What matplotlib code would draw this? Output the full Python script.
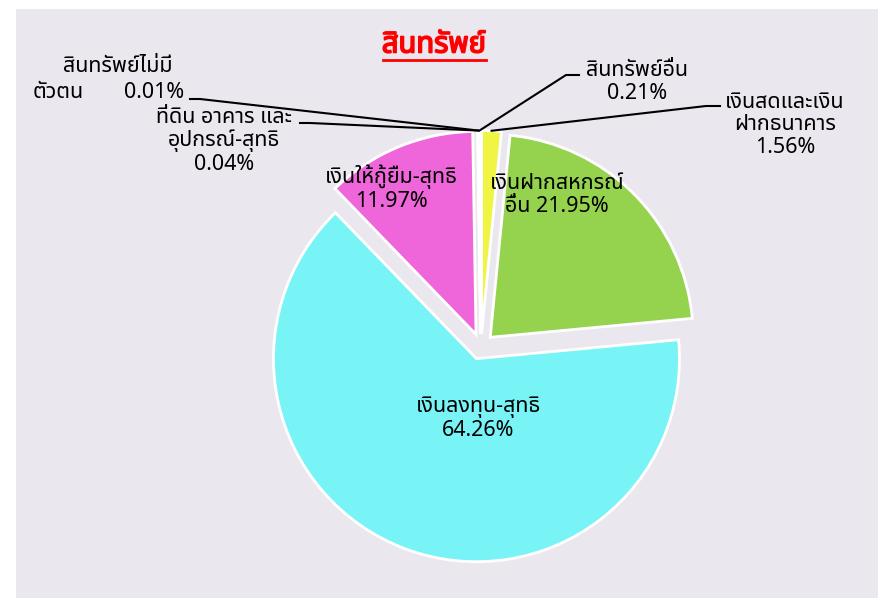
import matplotlib
matplotlib.use('Agg')
import matplotlib.pyplot as plt
from matplotlib import font_manager
from matplotlib.patches import Rectangle
import matplotlib.patheffects as pe
import numpy as np

# ---------------- data ----------------
title = 'สินทรัพย์'
categories = ['เงินสดและเงินฝากธนาคาร', 'เงินฝากสหกรณ์อื่น', 'เงินลงทุน-สุทธิ',
              'เงินให้กู้ยืม-สุทธิ', 'ที่ดิน อาคาร และอุปกรณ์-สุทธิ',
              'สินทรัพย์ไม่มีตัวตน', 'สินทรัพย์อื่น']
values = [1.56, 21.95, 64.26, 11.97, 0.04, 0.01, 0.21]
pct_labels = ['1.56%', '21.95%', '64.26%', '11.97%', '0.04%', '0.01%', '0.21%']
colors = ['#EFF542', '#95D34F', '#78F3F6', '#EE66D9', '#7F7FEF', '#F5A040', '#F05A5A']


# ---------------- font ----------------
def find_thai_font():
    try:
        from fontTools.ttLib import TTFont
    except Exception:
        return None
    found = []
    for f in font_manager.fontManager.ttflist:
        try:
            tt = TTFont(f.fname, fontNumber=0, lazy=True)
            cmap = tt.getBestCmap()
            if cmap and ord('ส') in cmap and ord('ุ') in cmap:
                found.append(f.name)
        except Exception:
            pass
    pref = ['Tahoma', 'Noto Sans Thai', 'Noto Sans Thai UI', 'Loma', 'Garuda',
            'Tlwg Typo', 'Sarabun', 'Kinnari', 'Norasi', 'DejaVu Sans']
    for p in pref:
        if p in found:
            return p
    return found[0] if found else None


thai = find_thai_font()
fams = ([thai] if thai else []) + ['DejaVu Sans']
plt.rcParams['font.family'] = fams

W, H = 882, 601
fig = plt.figure(figsize=(W / 100, H / 100), dpi=100)
fig.patch.set_facecolor('white')
bg = Rectangle((16 / W, 3 / H), (878 - 16) / W, (595 - 6) / H,
               transform=fig.transFigure, facecolor='#EBE7EF',
               edgecolor='none', zorder=-10)
fig.patches.append(bg)

ax = fig.add_axes([0, 0, 1, 1])
ax.set_zorder(5)
ax.patch.set_alpha(0)


def Y(y):
    return H - y


cx, cy, R = 481, 346.5, 203
expl = 13
wedges, _ = ax.pie(values, colors=colors, startangle=90, counterclock=False,
                   explode=[expl] * len(values), radius=R, center=(cx, Y(cy)),
                   wedgeprops=dict(edgecolor='white', linewidth=2), frame=True)
ax.set_xlim(0, W)
ax.set_ylim(0, H)
ax.set_aspect('equal')
ax.axis('off')


def outer_point(w):
    tm = np.deg2rad((w.theta1 + w.theta2) / 2)
    return w.center[0] + w.r * np.cos(tm), w.center[1] + w.r * np.sin(tm)


fs = 15.5
ls = 1.1
# title
ax.text(434, Y(45), title, color='#FF0000', fontsize=21, fontweight='bold',
        ha='center', va='center',
        path_effects=[pe.withStroke(linewidth=1.2, foreground='#FF0000')])
ax.plot([383, 486], [Y(60), Y(60)], color='#FF0000', lw=2)

# inside labels
ax.text(478, Y(419), 'เงินลงทุน-สุทธิ\n' + pct_labels[2], ha='center', va='center',
        fontsize=fs, linespacing=ls)
ax.text(391, Y(188), 'เงินให้กู้ยืม-สุทธิ\n' + pct_labels[3], ha='center', va='center',
        fontsize=fs, linespacing=ls)
ax.text(557, Y(195), 'เงินฝากสหกรณ์\nอื่น ' + pct_labels[1], ha='center', va='center',
        fontsize=fs, linespacing=ls)

# outside labels with leader lines
# cash
ax.text(785, Y(125), 'เงินสดและเงิน\nฝากธนาคาร\n' + pct_labels[0], ha='center',
        va='center', fontsize=fs, linespacing=ls)
px, py = outer_point(wedges[0])
ax.plot([720, 706, px], [Y(106), Y(106), py], color='black', lw=1.5)

# other
ax.text(637, Y(82), 'สินทรัพย์อื่น\n' + pct_labels[6], ha='center', va='center',
        fontsize=fs, linespacing=ls)
px, py = outer_point(wedges[6])
ax.plot([579, 566, px], [Y(75), Y(75), py], color='black', lw=1.5)

# land
ax.text(224, Y(141), 'ที่ดิน อาคาร และ\nอุปกรณ์-สุทธิ\n' + pct_labels[4], ha='center',
        va='center', fontsize=fs, linespacing=ls)
px, py = outer_point(wedges[4])
ax.plot([300, 310, px], [Y(123), Y(123), py], color='black', lw=1.5)

# intangible
ax.text(118, Y(67), 'สินทรัพย์ไม่มี', ha='center', va='center', fontsize=fs)
ax.text(58, Y(92), 'ตัวตน', ha='center', va='center', fontsize=fs)
ax.text(154, Y(92), pct_labels[5], ha='center', va='center', fontsize=fs)
px, py = outer_point(wedges[5])
ax.plot([190, 200, px], [Y(99), Y(99), py], color='black', lw=1.5)

fig.savefig('out.png', dpi=100, facecolor='white')
